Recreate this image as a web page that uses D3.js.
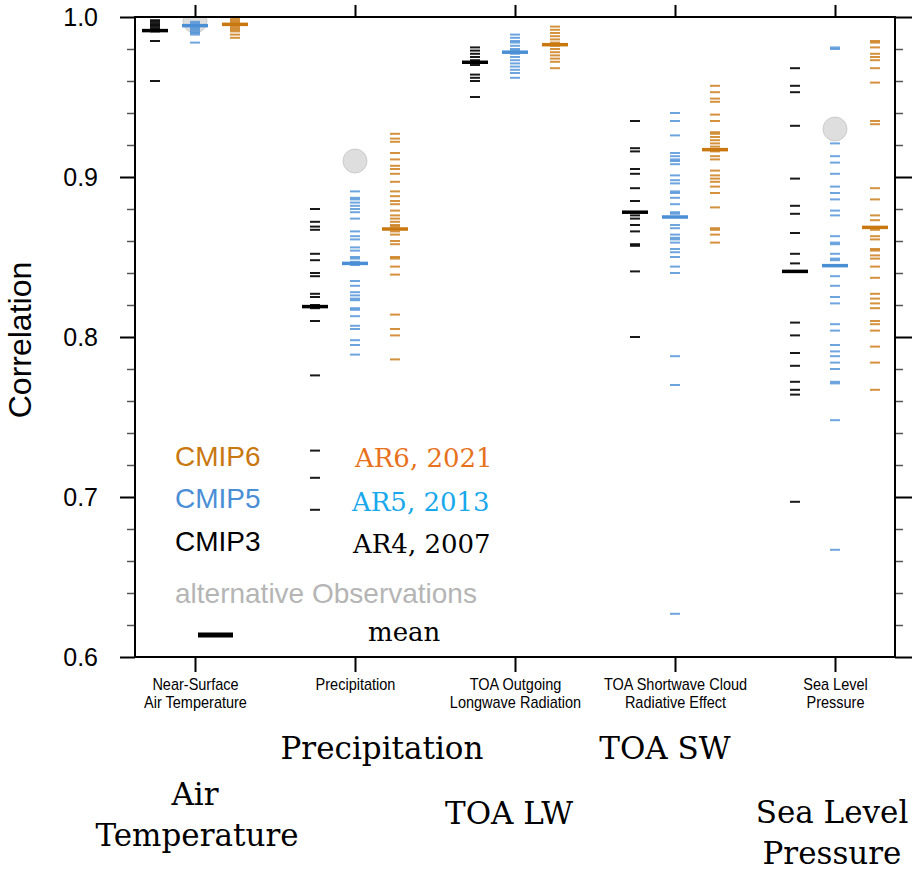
<!DOCTYPE html>
<html>
<head>
<meta charset="utf-8">
<script src="https://cdn.jsdelivr.net/npm/d3@7"></script>
<style>
  body { margin: 0; background: #fff; }
  svg { display: block; }
</style>
</head>
<body>
<div id="chart"></div>
<script>
// categories and tick labels
var categories = ["Near-Surface Air Temperature", "Precipitation", "TOA Outgoing Longwave Radiation",
                  "TOA Shortwave Cloud Radiative Effect", "Sea Level Pressure"];
var xTickLabels = [["Near-Surface", "Air Temperature"], ["Precipitation"], ["TOA Outgoing", "Longwave Radiation"],
                   ["TOA Shortwave Cloud", "Radiative Effect"], ["Sea Level", "Pressure"]];
var yTicks = [0.6, 0.7, 0.8, 0.9, 1.0];
var series = ["CMIP3", "CMIP5", "CMIP6"];

// model correlations, one list per category
var cmip3 = [
  [0.998, 0.997, 0.996, 0.995, 0.994, 0.993, 0.992, 0.991, 0.985, 0.960],
  [0.880, 0.872, 0.869, 0.867, 0.852, 0.848, 0.840, 0.838, 0.827, 0.825, 0.820, 0.818, 0.810, 0.776, 0.729, 0.712, 0.692],
  [0.981, 0.979, 0.977, 0.975, 0.973, 0.970, 0.964, 0.962, 0.960, 0.950],
  [0.935, 0.918, 0.916, 0.905, 0.902, 0.893, 0.885, 0.878, 0.876, 0.874, 0.870, 0.866, 0.858, 0.857, 0.841, 0.800],
  [0.968, 0.957, 0.953, 0.932, 0.899, 0.882, 0.877, 0.865, 0.852, 0.846, 0.809, 0.801, 0.790, 0.782, 0.772, 0.767, 0.764, 0.697]
];
var cmip5 = [
  [0.997, 0.996, 0.995, 0.994, 0.993, 0.992, 0.991, 0.990, 0.989, 0.984],
  [0.891, 0.887, 0.886, 0.884, 0.882, 0.880, 0.878, 0.874, 0.866, 0.863, 0.861, 0.856, 0.854, 0.850, 0.849, 0.847, 0.845,
   0.835, 0.832, 0.828, 0.826, 0.824, 0.823, 0.818, 0.817, 0.813, 0.807, 0.805, 0.798, 0.795, 0.789],
  [0.989, 0.987, 0.985, 0.984, 0.982, 0.980, 0.979, 0.977, 0.975, 0.973, 0.971, 0.969, 0.967, 0.965, 0.962],
  [0.940, 0.935, 0.926, 0.915, 0.913, 0.911, 0.910, 0.908, 0.901, 0.898, 0.896, 0.891, 0.890, 0.887, 0.883, 0.878, 0.877,
   0.870, 0.868, 0.864, 0.862, 0.861, 0.859, 0.855, 0.853, 0.850, 0.844, 0.840, 0.788, 0.770, 0.627],
  [0.981, 0.980, 0.921, 0.913, 0.909, 0.902, 0.894, 0.890, 0.886, 0.879, 0.876, 0.863, 0.859, 0.858, 0.852, 0.849, 0.848,
   0.838, 0.832, 0.825, 0.821, 0.808, 0.804, 0.795, 0.791, 0.788, 0.784, 0.780, 0.772, 0.771, 0.748, 0.667]
];
var cmip6 = [
  [0.999, 0.998, 0.997, 0.996, 0.995, 0.994, 0.993, 0.992, 0.991, 0.989, 0.987],
  [0.927, 0.924, 0.922, 0.915, 0.911, 0.907, 0.905, 0.902, 0.897, 0.891, 0.888, 0.885, 0.883, 0.879, 0.876, 0.874, 0.872,
   0.870, 0.869, 0.866, 0.864, 0.860, 0.858, 0.850, 0.849, 0.844, 0.839, 0.814, 0.805, 0.801, 0.786],
  [0.994, 0.992, 0.990, 0.988, 0.986, 0.984, 0.982, 0.980, 0.978, 0.976, 0.974, 0.972, 0.968],
  [0.957, 0.953, 0.949, 0.947, 0.939, 0.935, 0.928, 0.927, 0.925, 0.923, 0.921, 0.919, 0.916, 0.913, 0.911, 0.904, 0.901,
   0.899, 0.897, 0.894, 0.890, 0.881, 0.868, 0.867, 0.864, 0.859],
  [0.985, 0.984, 0.981, 0.977, 0.975, 0.973, 0.968, 0.959, 0.935, 0.933, 0.893, 0.886, 0.876, 0.873, 0.867, 0.863, 0.861,
   0.855, 0.854, 0.851, 0.849, 0.844, 0.837, 0.827, 0.824, 0.821, 0.818, 0.810, 0.808, 0.804, 0.794, 0.784, 0.767]
];

// multi-model means
var cmip3Mean = [0.9915, 0.819, 0.9717, 0.878, 0.841];
var cmip5Mean = [0.9946, 0.846, 0.978, 0.875, 0.8446];
var cmip6Mean = [0.9954, 0.8675, 0.9827, 0.9171, 0.8685];

// alternative observations (plotted in the CMIP5 column), null = none
var obsValues = [0.9975, 0.910, null, null, 0.930];

var colors = { CMIP3: "#000000", CMIP5: "#4a8fd6", CMIP6: "#c9770f" };

function drawChart() {
    var W = 918, H = 873;
    var pl = 135, pr = 895, pt = 17, pb = 657;

    var svg = d3.select("#chart").append("svg")
        .attr("width", W)
        .attr("height", H)
        .style("font-family", "'Liberation Sans', Arial, sans-serif");

    var x = d3.scalePoint()
        .domain(categories)
        .range([pl, pr])
        .padding(0.375);

    var xs = d3.scalePoint()
        .domain(series)
        .range([-40, 40]);

    var y = d3.scaleLinear()
        .domain([0.6, 1.0])
        .range([pb, pt]);

    svg.append("clipPath").attr("id", "plot-clip")
        .append("rect")
        .attr("x", pl).attr("y", pt)
        .attr("width", pr - pl).attr("height", pb - pt);

    var plot = svg.append("g").attr("clip-path", "url(#plot-clip)");

    // observation circles
    plot.selectAll("circle.obs")
        .data(obsValues.map(function(v, i) { return { cat: categories[i], v: v }; })
            .filter(function(d) { return d.v !== null; }))
        .enter()
        .append("circle")
        .attr("class", "obs")
        .attr("cx", function(d) { return x(d.cat) + xs("CMIP5"); })
        .attr("cy", function(d) { return y(d.v); })
        .attr("r", 12)
        .attr("fill", "#dedede")
        .attr("stroke", "#cccccc")
        .attr("stroke-width", 1);

    var modelData = { CMIP3: cmip3, CMIP5: cmip5, CMIP6: cmip6 };
    var meanData = { CMIP3: cmip3Mean, CMIP5: cmip5Mean, CMIP6: cmip6Mean };

    series.forEach(function(s) {
        var flat = [];
        modelData[s].forEach(function(vals, i) {
            vals.forEach(function(v) { flat.push({ cat: categories[i], v: v }); });
        });

        plot.selectAll("line.m-" + s)
            .data(flat)
            .enter()
            .append("line")
            .attr("class", "m-" + s)
            .attr("x1", function(d) { return x(d.cat) + xs(s) - 5; })
            .attr("x2", function(d) { return x(d.cat) + xs(s) + 5; })
            .attr("y1", function(d) { return y(d.v); })
            .attr("y2", function(d) { return y(d.v); })
            .attr("stroke", colors[s])
            .attr("stroke-width", 2)
            .attr("stroke-opacity", s === "CMIP3" ? 0.9 : 0.8);

        plot.selectAll("line.mean-" + s)
            .data(meanData[s])
            .enter()
            .append("line")
            .attr("class", "mean-" + s)
            .attr("x1", function(d, i) { return x(categories[i]) + xs(s) - 13; })
            .attr("x2", function(d, i) { return x(categories[i]) + xs(s) + 13; })
            .attr("y1", function(d) { return y(d); })
            .attr("y2", function(d) { return y(d); })
            .attr("stroke", colors[s])
            .attr("stroke-width", 3.5);
    });

    // minor ticks every 0.02
    var minorTicks = d3.range(0.62, 1.0, 0.02).filter(function(v) {
        return Math.abs(v * 10 - Math.round(v * 10)) > 0.01;
    });

    svg.append("g")
        .attr("transform", "translate(" + pl + ",0)")
        .call(d3.axisLeft(y).tickValues(minorTicks).tickSize(8).tickFormat(""))
        .call(function(g) {
            g.select(".domain").remove();
            g.selectAll("line").attr("stroke", "#555").attr("stroke-width", 1.5);
        });

    svg.append("g")
        .attr("transform", "translate(" + pr + ",0)")
        .call(d3.axisRight(y).tickValues(minorTicks).tickSize(8).tickFormat(""))
        .call(function(g) {
            g.select(".domain").remove();
            g.selectAll("line").attr("stroke", "#555").attr("stroke-width", 1.5);
        });

    svg.append("g")
        .attr("transform", "translate(" + pl + ",0)")
        .call(d3.axisLeft(y).tickValues(yTicks).tickSize(15).tickPadding(22).tickFormat(d3.format(".1f")))
        .call(function(g) {
            g.select(".domain").remove();
            g.selectAll("line").attr("stroke", "#000").attr("stroke-width", 2);
            g.selectAll("text")
                .attr("font-size", 25)
                .attr("font-family", "'Liberation Sans', Arial, sans-serif")
                .attr("fill", "#000");
        });

    svg.append("g")
        .attr("transform", "translate(" + pr + ",0)")
        .call(d3.axisRight(y).tickValues(yTicks).tickSize(17).tickFormat(""))
        .call(function(g) {
            g.select(".domain").remove();
            g.selectAll("line").attr("stroke", "#000").attr("stroke-width", 2);
        });

    svg.append("g")
        .attr("transform", "translate(0," + pt + ")")
        .call(d3.axisTop(x).tickSize(12).tickFormat(""))
        .call(function(g) {
            g.select(".domain").remove();
            g.selectAll("line").attr("stroke", "#000").attr("stroke-width", 2);
        });

    var xAxis = svg.append("g")
        .attr("transform", "translate(0," + pb + ")")
        .call(d3.axisBottom(x).tickSize(15).tickFormat(""))
        .call(function(g) {
            g.select(".domain").remove();
            g.selectAll("line").attr("stroke", "#000").attr("stroke-width", 2);
        });

    // two-line category labels
    xAxis.selectAll(".tick")
        .append("text")
        .attr("fill", "#000")
        .attr("font-size", 14.5)
        .attr("text-anchor", "middle")
        .attr("transform", "scale(1,1.1)")
        .selectAll("tspan")
        .data(function(d) { return xTickLabels[categories.indexOf(d)]; })
        .enter()
        .append("tspan")
        .attr("x", 0)
        .attr("y", function(d, i) { return 30 + i * 16; })
        .text(function(d) { return d; });

    // frame
    svg.append("rect")
        .attr("x", pl).attr("y", pt)
        .attr("width", pr - pl).attr("height", pb - pt)
        .attr("fill", "none")
        .attr("stroke", "#000")
        .attr("stroke-width", 2);

    // y axis title
    svg.append("text")
        .attr("transform", "translate(31,340) rotate(-90)")
        .attr("text-anchor", "middle")
        .attr("font-size", 32)
        .attr("fill", "#000")
        .text("Correlation");

    // legend
    var legendLeft = [
        { t: "CMIP6", c: "#c9770f", y: 466 },
        { t: "CMIP5", c: "#4a8fd6", y: 508 },
        { t: "CMIP3", c: "#000000", y: 551 },
        { t: "alternative Observations", c: "#b5b5b5", y: 603 }
    ];
    svg.selectAll("text.leg")
        .data(legendLeft)
        .enter()
        .append("text")
        .attr("class", "leg")
        .attr("x", 175)
        .attr("y", function(d) { return d.y; })
        .attr("font-size", 28)
        .attr("fill", function(d) { return d.c; })
        .text(function(d) { return d.t; });

    svg.append("line")
        .attr("x1", 198).attr("x2", 233)
        .attr("y1", 635).attr("y2", 635)
        .attr("stroke", "#000")
        .attr("stroke-width", 5);

    var legendRight = [
        { t: "AR6, 2021", c: "#e8721c", x: 355, y: 467 },
        { t: "AR5, 2013", c: "#18a8ec", x: 352, y: 511 },
        { t: "AR4, 2007", c: "#000000", x: 353, y: 553 },
        { t: "mean", c: "#000000", x: 368, y: 641 }
    ];
    svg.selectAll("text.legr")
        .data(legendRight)
        .enter()
        .append("text")
        .attr("class", "legr")
        .attr("x", function(d) { return d.x; })
        .attr("y", function(d) { return d.y; })
        .attr("font-family", "'DejaVu Serif', serif")
        .attr("font-size", 26)
        .attr("fill", function(d) { return d.c; })
        .text(function(d) { return d.t; });

    // big annotations below the chart
    var notes = [
        { t: "Precipitation", x: 382, y: 759 },
        { t: "TOA SW", x: 665, y: 759 },
        { t: "Air", x: 195, y: 805 },
        { t: "Temperature", x: 197, y: 846 },
        { t: "TOA LW", x: 509, y: 824 },
        { t: "Sea Level", x: 832, y: 823 },
        { t: "Pressure", x: 832, y: 864 }
    ];
    svg.selectAll("text.note")
        .data(notes)
        .enter()
        .append("text")
        .attr("class", "note")
        .attr("x", function(d) { return d.x; })
        .attr("y", function(d) { return d.y; })
        .attr("text-anchor", "middle")
        .attr("font-family", "'DejaVu Serif', serif")
        .attr("font-size", 31)
        .attr("fill", "#000")
        .text(function(d) { return d.t; });
}

window.onload = drawChart;
</script>
</body>
</html>
